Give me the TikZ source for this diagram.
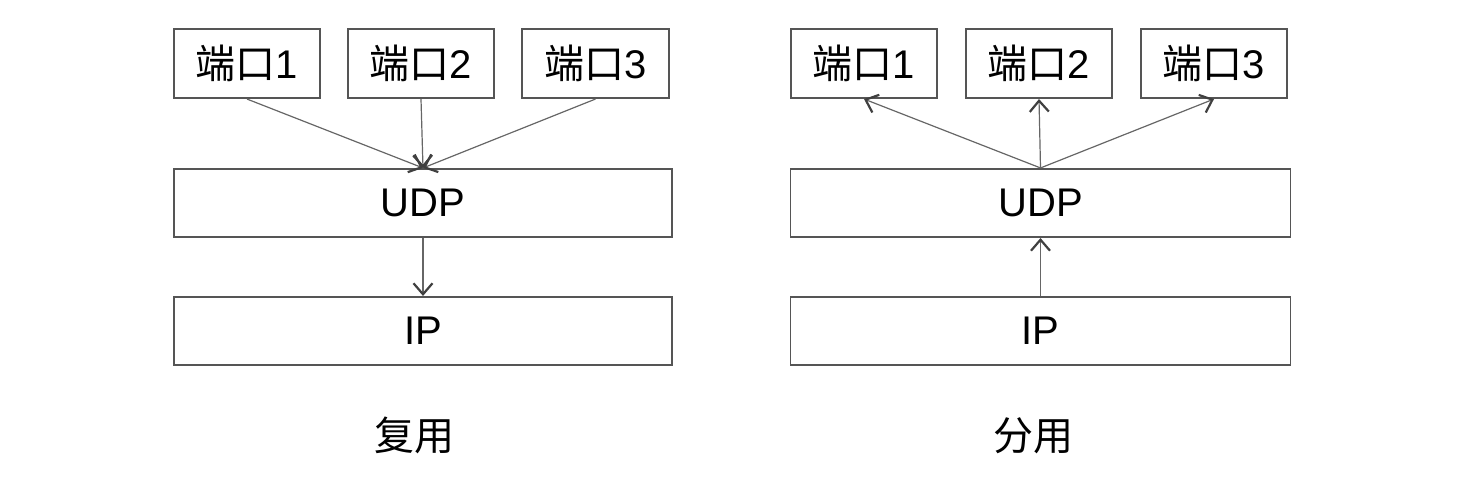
\documentclass[tikz,border=0pt]{standalone}
\usepackage{fontspec}
\setmainfont{Liberation Sans}
\newfontfamily\cjk{Noto Sans CJK SC}
\usetikzlibrary{arrows.meta}
\definecolor{boxc}{HTML}{555555}
\definecolor{linec}{HTML}{666666}
\definecolor{headc}{HTML}{404040}
\begin{document}
\begin{tikzpicture}[x=1pt,y=-1pt,
  box/.style={draw=boxc, line width=1.7pt, inner sep=0pt, font=\fontsize{40}{42}\selectfont},
  port/.style={box, minimum width=146.4pt, minimum height=69.4pt},
  layer/.style={box, minimum height=68.4pt},
  conn/.style={draw=linec, line width=1.2pt, -{Straight Barb[length=11pt,width=19pt,line width=2.2pt,color=headc]}},
  caption/.style={font=\fontsize{40}{42}\selectfont\cjk, inner sep=0pt}]
\useasboundingbox (0,0) rectangle (1464,478);
% left: multiplexing
\node[port] (L1) at (247,63.5) {{\cjk 端口}1};
\node[port] (L2) at (421,63.5) {{\cjk 端口}2};
\node[port] (L3) at (595.5,63.5) {{\cjk 端口}3};
\node[layer, minimum width=498.4pt] (LU) at (423,203) {UDP};
\node[layer, minimum width=498.4pt] (LI) at (423,331) {IP};
\node[caption] (LC) at (414,435) {复用};
\draw[conn] (L1.south) -- (LU.north);
\draw[conn] (L2.south) -- (LU.north);
\draw[conn] (L3.south) -- (LU.north);
\draw[conn] (LU.south) -- (LI.north);
% right: demultiplexing
\node[port] (R1) at (864,63.5) {{\cjk 端口}1};
\node[port] (R2) at (1039,63.5) {{\cjk 端口}2};
\node[port] (R3) at (1214,63.5) {{\cjk 端口}3};
\node[layer, minimum width=500pt] (RU) at (1040.5,203) {UDP};
\node[layer, minimum width=500pt] (RI) at (1040.5,331) {IP};
\node[caption] (RC) at (1033,436) {分用};
\draw[conn] (RU.north) -- (R1.south);
\draw[conn] (RU.north) -- (R2.south);
\draw[conn] (RU.north) -- (R3.south);
\draw[conn] (RI.north) -- (RU.south);
\end{tikzpicture}
\end{document}
